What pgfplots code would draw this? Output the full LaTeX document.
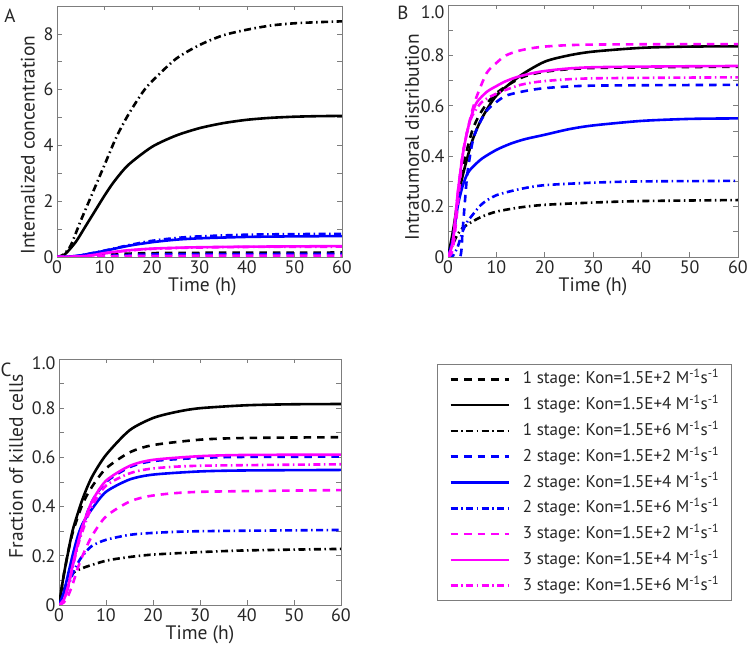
\documentclass[border=0pt]{standalone}
\usepackage{pgfplots}
\pgfplotsset{compat=1.18}
\usepackage{fontspec}
\setmainfont{PT Sans}
\definecolor{mblue}{RGB}{0,0,255}
\definecolor{mmag}{RGB}{255,0,255}
\definecolor{axgray}{RGB}{125,125,125}
\definecolor{labgray}{RGB}{38,38,38}
\pgfplotsset{
  common/.style={
    scale only axis, xmin=0, xmax=60, xtick={0,10,...,60},
    tick align=inside,
    axis line style={draw=axgray, line width=0.8pt},
    every tick/.style={draw=axgray, line width=0.7pt},
    major tick length=4.5pt, minor tick length=4.5pt,
    tick label style={font=\fontsize{18}{20}\selectfont, text=labgray},
    label style={font=\fontsize{19.5}{22}\selectfont, text=labgray},
    /pgf/number format/assume math mode=true,
    xlabel={Time (h)},
    legend image code/.code={\draw[##1] (0pt,0pt) -- (58pt,0pt);},
  },
  dsh/.style={line width=2.6pt, smooth, tension=0.45, dash pattern=on 7.5pt off 6pt},
  sol/.style={line width=2.6pt, smooth, tension=0.45},
  ddt/.style={line width=2.6pt, smooth, tension=0.45, dash pattern=on 7pt off 3.5pt on 1.5pt off 3.5pt},
}
\begin{document}
\begin{tikzpicture}
\useasboundingbox (0,0) rectangle (750pt,648pt);
% ---------------- Panel A
\begin{axis}[common, at={(57pt,391pt)}, anchor=south west, width=285pt, height=251pt,
  ymin=0, ymax=9, ytick={0,2,4,6,8}, minor ytick={1,3,5,7},
  ylabel={Internalized concentration},
  ylabel style={at={(axis description cs:-0.102,0.446)}, anchor=center},
  xlabel style={at={(axis description cs:0.51,-0.12)}, anchor=center}]
\addplot[dsh, black] coordinates {(0,0)(5,0.02)(10,0.08)(15,0.12)(20,0.14)(30,0.15)(40,0.155)(60,0.16)};
\addplot[sol, black] coordinates {(0,0)(1,0.03)(2,0.15)(4,0.55)(6,1.1)(8,1.65)(10,2.2)(12,2.7)(15,3.3)(20,3.95)(25,4.35)(30,4.62)(35,4.8)(40,4.92)(45,4.99)(50,5.03)(55,5.05)(60,5.06)};
\addplot[ddt, black] coordinates {(0,0)(1,0.05)(2,0.2)(3,0.45)(5,1.3)(7,2.1)(10,3.3)(12.5,4.3)(15,5.1)(18,5.9)(20,6.3)(25,7.1)(30,7.6)(35,7.95)(40,8.15)(45,8.3)(50,8.38)(55,8.42)(60,8.45)};
\addplot[dsh, mblue] coordinates {(0,0)(5,0.01)(10,0.04)(15,0.07)(20,0.09)(30,0.1)(60,0.11)};
\addplot[sol, mblue] coordinates {(0,0)(3,0.02)(5,0.06)(10,0.22)(15,0.4)(20,0.53)(25,0.62)(30,0.67)(40,0.72)(50,0.74)(60,0.75)};
\addplot[ddt, mblue] coordinates {(0,0)(3,0.02)(5,0.06)(10,0.23)(15,0.42)(20,0.58)(25,0.68)(30,0.74)(40,0.8)(50,0.82)(60,0.83)};
\addplot[dsh, mmag] coordinates {(0,0)(10,0.02)(20,0.04)(60,0.05)};
\addplot[sol, mmag] coordinates {(0,0)(5,0.02)(8,0.08)(10,0.14)(15,0.24)(20,0.3)(25,0.33)(30,0.35)(40,0.37)(60,0.39)};
\addplot[ddt, mmag] coordinates {(0,0)(5,0.02)(8,0.07)(10,0.13)(15,0.23)(20,0.29)(25,0.32)(30,0.34)(40,0.36)(60,0.37)};
\end{axis}
% ---------------- Panel B
\begin{axis}[common, at={(448pt,391pt)}, anchor=south west, width=290pt, height=252pt,
  ymin=0, ymax=1, ytick={0,0.2,0.4,0.6,0.8,1.0},
  yticklabels={0,0.2,0.4,0.6,0.8,\raisebox{-7pt}[\height][\depth]{1.0}}, minor ytick={0.1,0.3,0.5,0.7,0.9},
  ylabel={Intratumoral distribution},
  ylabel style={at={(axis description cs:-0.124,0.476)}, anchor=center},
  xlabel style={at={(axis description cs:0.5,-0.119)}, anchor=center}]
\addplot[dsh, black] coordinates {(0,0)(1,0.07)(2,0.22)(3,0.35)(5,0.5)(7,0.58)(10,0.65)(15,0.71)(20,0.735)(30,0.75)(60,0.755)};
\addplot[sol, black] coordinates {(0,0)(1,0.1)(2,0.22)(3,0.32)(5,0.46)(7,0.55)(10,0.64)(15,0.72)(20,0.775)(25,0.8)(30,0.815)(40,0.83)(50,0.835)(60,0.836)};
\addplot[ddt, black] coordinates {(0,0)(1,0.05)(2,0.09)(3,0.115)(5,0.14)(7,0.16)(10,0.18)(15,0.197)(20,0.207)(30,0.216)(40,0.222)(60,0.226)};
\addplot[dsh, mblue] coordinates {(0,0)(2.5,0)(3,0.1)(3.5,0.22)(4,0.33)(5,0.45)(6,0.51)(8,0.58)(10,0.615)(12,0.64)(15,0.655)(20,0.67)(30,0.68)(60,0.683)};
\addplot[sol, mblue] coordinates {(0,0)(1,0.07)(2,0.2)(3,0.28)(4,0.33)(5,0.355)(7,0.39)(10,0.425)(13,0.45)(16,0.468)(20,0.485)(25,0.507)(30,0.522)(40,0.54)(50,0.548)(60,0.55)};
\addplot[ddt, mblue] coordinates {(0,0)(1,0.005)(2,0.04)(3,0.1)(4,0.14)(5,0.165)(7,0.21)(10,0.245)(15,0.27)(20,0.285)(30,0.295)(40,0.3)(60,0.302)};
\addplot[dsh, mmag] coordinates {(0,0)(1,0.03)(2,0.2)(3,0.4)(4,0.5)(5,0.58)(6,0.64)(8,0.73)(10,0.77)(12,0.8)(15,0.82)(20,0.835)(30,0.843)(60,0.845)};
\addplot[sol, mmag] coordinates {(0,0)(1,0.06)(2,0.25)(3,0.4)(4,0.5)(5,0.57)(6,0.615)(8,0.655)(10,0.678)(12,0.698)(15,0.718)(20,0.738)(30,0.753)(60,0.758)};
\addplot[ddt, mmag] coordinates {(0,0)(1,0.06)(2,0.25)(3,0.4)(4,0.5)(5,0.56)(7,0.615)(10,0.648)(15,0.683)(20,0.698)(30,0.709)(60,0.713)};
\end{axis}
% ---------------- Panel C
\begin{axis}[common, at={(59pt,43pt)}, anchor=south west, width=282pt, height=246pt,
  ymin=0, ymax=1, ytick={0,0.2,0.4,0.6,0.8,1.0},
  yticklabels={0,0.2,0.4,0.6,0.8,\raisebox{-4pt}[\height][\depth]{1.0}}, minor ytick={0.1,0.3,0.5,0.7,0.9},
  ylabel={Fraction of killed cells},
  ylabel style={at={(axis description cs:-0.152,0.565)}, anchor=center},
  xlabel style={at={(axis description cs:0.5,-0.122)}, anchor=center},
  legend style={at={(1.3404,0.9797)}, anchor=north west, draw=axgray, line width=0.8pt,
    font=\fontsize{17}{19}\selectfont, text=labgray, inner xsep=12pt, inner ysep=6.5pt,
    row sep=8.8pt, column sep=0pt,
    nodes={inner sep=0pt, text height=13pt, text depth=4pt}},
  legend cell align=left]
\addplot[dsh, black] coordinates {(0,0)(1,0.12)(2,0.22)(3,0.3)(5,0.41)(7,0.48)(10,0.555)(15,0.62)(20,0.65)(30,0.672)(40,0.679)(60,0.682)};
\addlegendentry{\hspace{13pt}1 stage: Kon=1.5E+2 M\textsuperscript{-1}s\textsuperscript{-1}}
\addplot[sol, black] coordinates {(0,0)(1,0.12)(2,0.22)(3,0.31)(5,0.43)(7,0.52)(10,0.61)(15,0.71)(20,0.76)(25,0.785)(30,0.8)(40,0.812)(50,0.816)(60,0.817)};
\addlegendentry{\hspace{13pt}1 stage: Kon=1.5E+4 M\textsuperscript{-1}s\textsuperscript{-1}}
\addplot[ddt, black] coordinates {(0,0)(1,0.06)(2,0.1)(3,0.13)(5,0.15)(10,0.18)(15,0.195)(20,0.205)(30,0.215)(40,0.222)(60,0.228)};
\addlegendentry{\hspace{13pt}1 stage: Kon=1.5E+6 M\textsuperscript{-1}s\textsuperscript{-1}}
\addplot[dsh, mblue] coordinates {(0,0)(1,0.02)(2,0.08)(3,0.17)(4,0.25)(5,0.32)(7,0.42)(10,0.5)(15,0.56)(20,0.585)(30,0.598)(40,0.602)(60,0.603)};
\addlegendentry{\hspace{13pt}2 stage: Kon=1.5E+2 M\textsuperscript{-1}s\textsuperscript{-1}}
\addplot[sol, mblue] coordinates {(0,0)(1,0.05)(2,0.13)(3,0.21)(4,0.28)(5,0.33)(7,0.39)(10,0.46)(15,0.51)(20,0.53)(30,0.543)(40,0.547)(60,0.549)};
\addlegendentry{\hspace{13pt}2 stage: Kon=1.5E+4 M\textsuperscript{-1}s\textsuperscript{-1}}
\addplot[ddt, mblue] coordinates {(0,0)(1,0.03)(2,0.08)(3,0.13)(4,0.17)(5,0.2)(7,0.24)(10,0.265)(15,0.285)(20,0.293)(30,0.3)(60,0.305)};
\addlegendentry{\hspace{13pt}2 stage: Kon=1.5E+6 M\textsuperscript{-1}s\textsuperscript{-1}}
\addplot[dsh, mmag] coordinates {(0,0)(1,0.01)(2,0.04)(3,0.09)(4,0.15)(5,0.2)(7,0.28)(10,0.36)(15,0.42)(20,0.445)(30,0.46)(60,0.467)};
\addlegendentry{\hspace{13pt}3 stage: Kon=1.5E+2 M\textsuperscript{-1}s\textsuperscript{-1}}
\addplot[sol, mmag] coordinates {(0,0)(1,0.02)(2,0.08)(3,0.17)(4,0.25)(5,0.32)(7,0.42)(10,0.505)(15,0.565)(20,0.59)(30,0.605)(40,0.61)(60,0.611)};
\addlegendentry{\hspace{13pt}3 stage: Kon=1.5E+4 M\textsuperscript{-1}s\textsuperscript{-1}}
\addplot[ddt, mmag] coordinates {(0,0)(1,0.02)(2,0.08)(3,0.16)(4,0.24)(5,0.3)(7,0.4)(10,0.485)(15,0.535)(20,0.555)(30,0.566)(60,0.572)};
\addlegendentry{\hspace{13pt}3 stage: Kon=1.5E+6 M\textsuperscript{-1}s\textsuperscript{-1}}
\end{axis}
% panel letters
\node[font=\fontsize{19}{22}\selectfont, text=labgray] at (10pt,632pt) {A};
\node[font=\fontsize{19}{22}\selectfont, text=labgray] at (403pt,635pt) {B};
\node[font=\fontsize{19}{22}\selectfont, text=labgray] at (6pt,278pt) {C};
\end{tikzpicture}
\end{document}
